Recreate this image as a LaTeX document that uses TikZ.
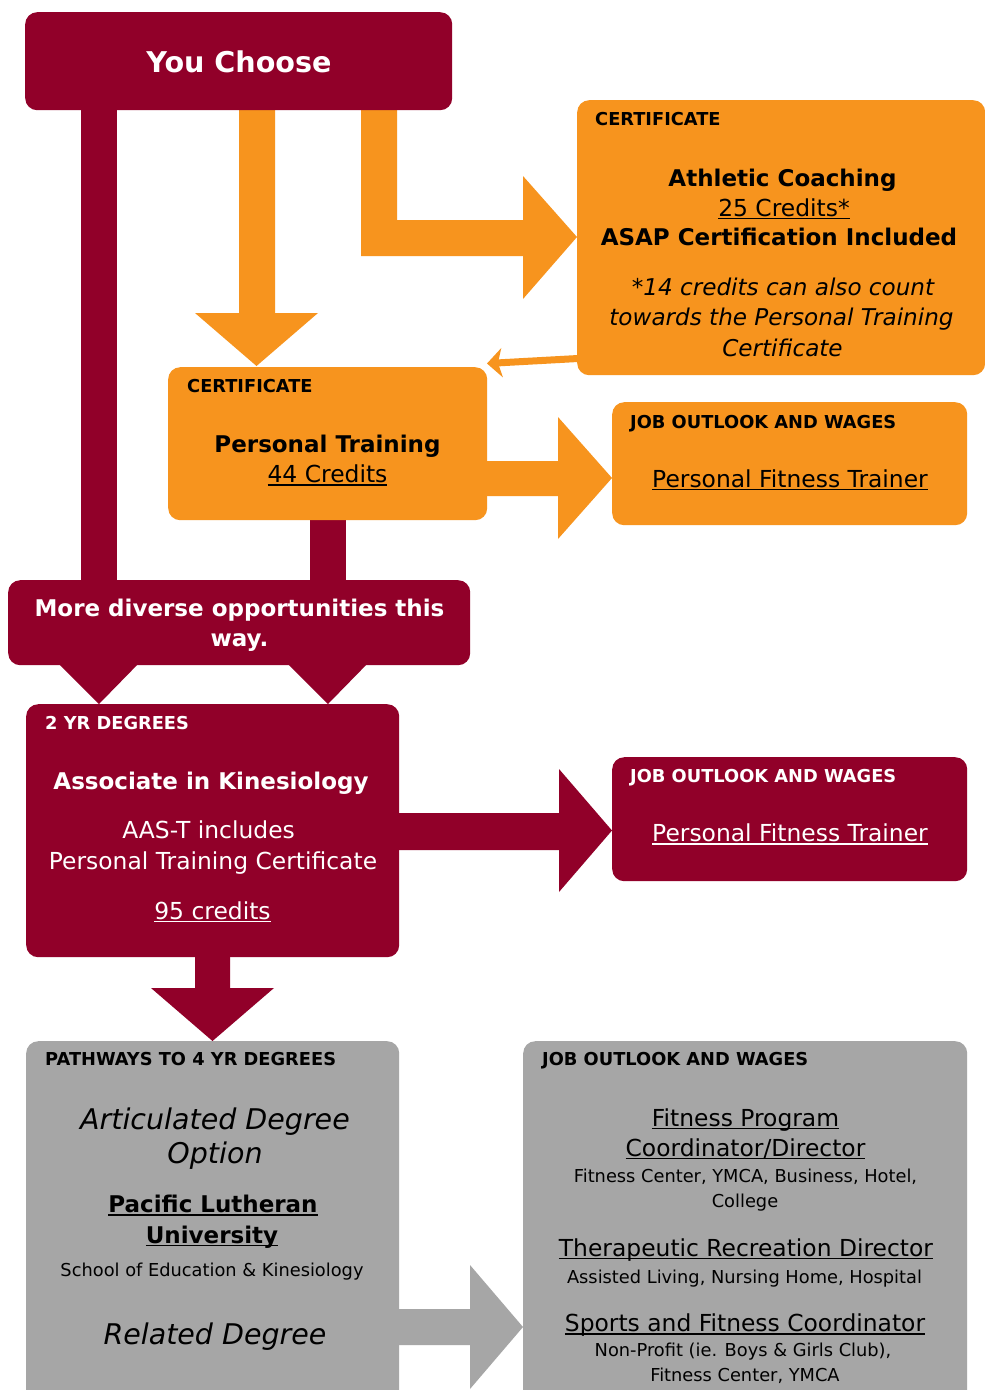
\documentclass[tikz,border=0pt]{standalone}
\usepackage{fontspec}
\setmainfont{DejaVu Sans}[ItalicFont={DejaVu Sans Oblique},BoldFont={DejaVu Sans Bold},BoldItalicFont={DejaVu Sans Bold Oblique}]
\usetikzlibrary{arrows.meta}
\definecolor{dred}{RGB}{145,0,41}
\definecolor{orng}{RGB}{247,148,30}
\definecolor{gry}{RGB}{166,166,166}
\newcommand\ulx[1]{\leavevmode\setbox0=\hbox{#1}\rlap{\rule[-3pt]{\wd0}{1.4pt}}\box0}
\begin{document}
\begin{tikzpicture}[x=1pt,y=-1pt,
  panel/.style={rectangle, rounded corners=12pt, inner sep=0pt, anchor=north west, draw=none},
  txt/.style={inner sep=0pt, anchor=base},
  hdr/.style={inner sep=0pt, anchor=base west, font=\fontsize{17.8}{21}\selectfont\bfseries},
  lbig/.style={txt, font=\fontsize{23.4}{28}\selectfont},
  lbigb/.style={txt, font=\fontsize{23}{28}\selectfont\bfseries},
  lbigi/.style={txt, font=\fontsize{23.1}{28}\selectfont\itshape},
  lxl/.style={txt, font=\fontsize{28.5}{32}\selectfont\itshape},
  lsm/.style={txt, font=\fontsize{17.8}{21}\selectfont},
]
\useasboundingbox (0,0) rectangle (985,1390);
\clip (0,0) rectangle (985,1390);
\fill[white] (0,0) rectangle (985,1390);

% ---------- block arrows (drawn under the boxes) ----------
% dark red bar from You Choose to "More diverse"
\fill[dred] (81,100) rectangle (117,590);
% orange down arrow to Personal Training
\fill[orng] (239,100) -- (275,100) -- (275,313) -- (318,313) -- (256.5,366) -- (195,313) -- (239,313) -- cycle;
% orange bent arrow to Athletic Coaching
\fill[orng] (361,100) -- (397,100) -- (397,220) -- (523,220) -- (523,176) -- (577,237) -- (523,299) -- (523,256) -- (361,256) -- cycle;
% dark red bar from Personal Training to "More diverse"
\fill[dred] (310,510) rectangle (346,590);
% orange right arrow to job outlook
\fill[orng] (480,461) -- (558,461) -- (558,417) -- (612,478) -- (558,539) -- (558,496) -- (480,496) -- cycle;
% two heads under "More diverse"
\fill[dred] (55,660) -- (142,660) -- (99,704) -- cycle;
\fill[dred] (284,660) -- (371,660) -- (328,704) -- cycle;
% dark red right arrow to job outlook
\fill[dred] (390,813) -- (559,813) -- (559,769) -- (612,830.5) -- (559,892) -- (559,850) -- (390,850) -- cycle;
% dark red down arrow to pathways
\fill[dred] (195,950) -- (230,950) -- (230,988) -- (274,988) -- (212.5,1041) -- (151,988) -- (195,988) -- cycle;
% gray right arrow
\fill[gry] (390,1309) -- (470,1309) -- (470,1265) -- (523,1327) -- (470,1389) -- (470,1345) -- (390,1345) -- cycle;

% ---------- boxes ----------
\node[panel, fill=dred, minimum width=427, minimum height=98] (yc) at (25,12) {};
\node[panel, fill=orng, minimum width=408, minimum height=275] (ac) at (577,100) {};
\node[panel, fill=orng, minimum width=319, minimum height=153] (pt) at (168,367) {};
\node[panel, fill=orng, minimum width=355, minimum height=123] (jo1) at (612,402) {};
\node[panel, fill=dred, minimum width=462, minimum height=85] (md) at (8,580) {};
\node[panel, fill=dred, minimum width=373, minimum height=253] (ak) at (26,704) {};
\node[panel, fill=dred, minimum width=355, minimum height=124] (jo2) at (612,757) {};
\node[panel, fill=gry, minimum width=373, minimum height=380] (pw) at (26,1041) {};
\node[panel, fill=gry, minimum width=444, minimum height=380] (jo3) at (523,1041) {};

% thin orange arrow from Athletic Coaching to Personal Training
\coordinate (thinA) at (578,358.5);
\coordinate (thinB) at (487,363.5);
\draw[orng, line width=7pt, -{Stealth[length=15pt,width=29pt,inset=4pt]}] (thinA) -- (thinB);

% ---------- texts ----------
\node[txt, font=\fontsize{28.6}{32}\selectfont\bfseries, text=white] (tyc) at (239,72) {You Choose};

\node[hdr] (h1) at (595,125) {CERTIFICATE};
\node[lbigb] (a1) at (782.5,186) {Athletic Coaching};
\node[lbig] (a2) at (784,216) {\ulx{25 Credits*}};
\node[lbigb] (a3) at (779,245.5) {ASAP Certification Included};
\node[lbigi] (a4) at (783,295) {*14 credits can also count};
\node[lbigi] (a5) at (781.5,325.5) {towards the Personal Training};
\node[lbigi] (a6) at (782.5,356) {Certificate};

\node[hdr] (h2) at (187,392) {CERTIFICATE};
\node[lbigb] (p1) at (327.5,452.5) {Personal Training};
\node[lbig] (p2) at (327.5,482.5) {\ulx{44 Credits}};

\node[hdr] (h3) at (630,428) {JOB OUTLOOK AND WAGES};
\node[lbig] (j1) at (790,487) {\ulx{Personal Fitness Trainer}};

\node[lbigb, text=white] (m1) at (239.5,616.8) {More diverse opportunities this};
\node[lbigb, text=white] (m2) at (239.5,646.5) {way.};

\node[hdr, text=white] (h4) at (45,729) {2 YR DEGREES};
\node[lbigb, text=white] (k1) at (211,789.5) {Associate in Kinesiology};
\node[lbig, text=white] (k2) at (208.6,838.6) {AAS-T includes};
\node[lbig, text=white] (k3) at (213,869) {Personal Training Certificate};
\node[lbig, text=white] (k4) at (212.5,919.3) {\ulx{95 credits}};

\node[hdr, text=white] (h5) at (630,782) {JOB OUTLOOK AND WAGES};
\node[lbig, text=white] (j2) at (790,841.7) {\ulx{Personal Fitness Trainer}};

\node[hdr] (h6) at (45,1065) {PATHWAYS TO 4 YR DEGREES};
\node[lxl] (w1) at (215,1129) {Articulated Degree};
\node[lxl] (w2) at (215,1163) {Option};
\node[lbigb] (w3) at (213,1212.7) {\ulx{Pacific Lutheran}};
\node[lbigb] (w4) at (212,1243) {\ulx{University}};
\node[lsm] (w5) at (212,1276.7) {School of Education \& Kinesiology};
\node[lxl] (w6) at (215,1344) {Related Degree};

\node[hdr] (h7) at (542,1065) {JOB OUTLOOK AND WAGES};
\node[lbig] (r1) at (745.5,1126) {\ulx{Fitness Program}};
\node[lbig] (r2) at (745.5,1156) {\ulx{Coordinator/Director}};
\node[lsm] (r3) at (745.5,1182.7) {Fitness Center, YMCA, Business, Hotel,};
\node[lsm] (r4) at (745,1207) {College};
\node[lbig] (r5) at (746,1256) {\ulx{Therapeutic Recreation Director}};
\node[lsm] (r6) at (744.5,1283) {Assisted Living, Nursing Home, Hospital};
\node[lbig] (r7) at (745,1331.7) {\ulx{Sports and Fitness Coordinator}};
\node[lsm] (r8) at (743,1356.7) {Non-Profit (ie. Boys \& Girls Club),};
\node[lsm] (r9) at (745,1381) {Fitness Center, YMCA};
\end{tikzpicture}
\end{document}
